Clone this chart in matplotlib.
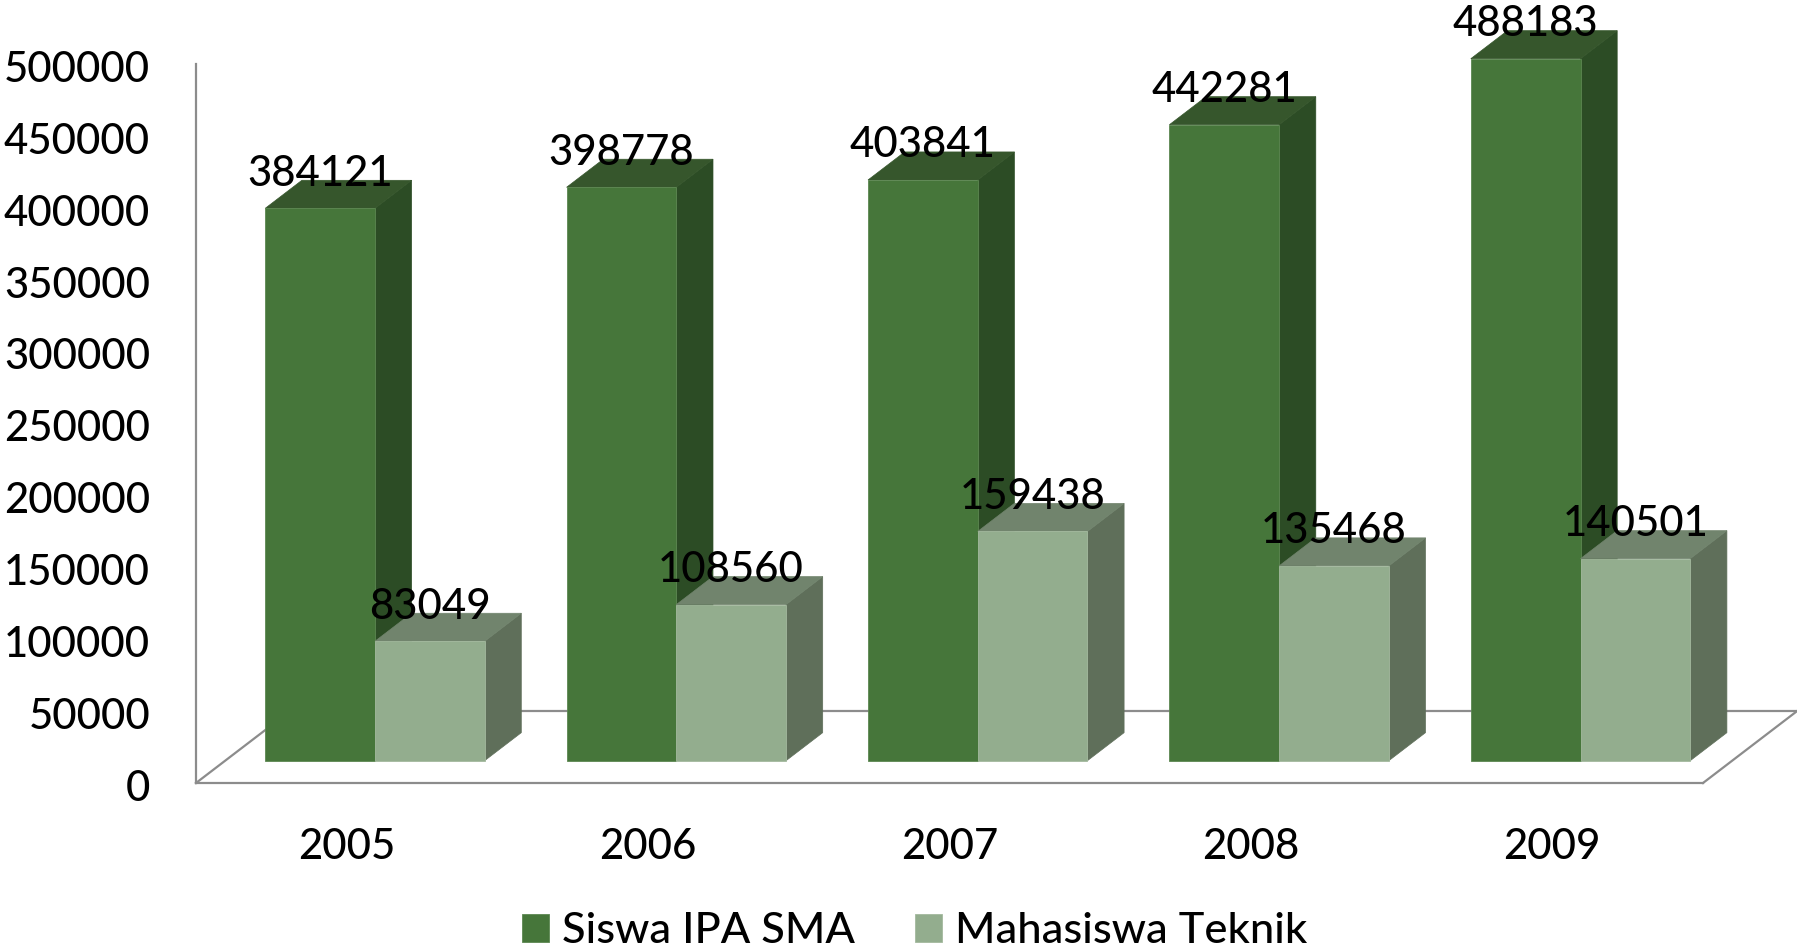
import numpy as np
import matplotlib.pyplot as plt
from matplotlib.patches import Polygon
from matplotlib.transforms import ScaledTranslation

plt.rcParams['font.family'] = ['Lato', 'DejaVu Sans']
plt.rcParams['font.weight'] = 'medium'

years = ['2005', '2006', '2007', '2008', '2009']
siswa = [384121, 398778, 403841, 442281, 488183]
mahasiswa = [83049, 108560, 159438, 135468, 140501]
yticks = list(range(0, 500001, 50000))

# oblique projection of the floor: depth in category units and value units
floor_dx = 0.312
floor_dy = 50000
front = 0.30   # where the bars start inside the floor
depth = 0.39   # how deep the bars are
width = 0.364
fs = 30.2
line = '#8c8c8c'

fig = plt.figure(figsize=(17.97, 9.52), dpi=100)
ax = fig.add_axes([196 / 1797, (952 - 783) / 952, 1507 / 1797, 719 / 952])
ax.set_xlim(-0.5, 4.5)
ax.set_ylim(0, 500000)

# floor
ax.plot([-0.5, -0.5 + floor_dx], [0, floor_dy], color=line, lw=1.6, clip_on=False, zorder=1)
ax.plot([4.5, 4.5 + floor_dx], [0, floor_dy], color=line, lw=1.6, clip_on=False, zorder=1)
ax.plot([-0.5 + floor_dx, 4.5 + floor_dx], [floor_dy, floor_dy], color=line, lw=1.6, clip_on=False, zorder=1)


def bar3d(x, values, c_front, c_side, c_top, c_edge, z, label):
    base = 0.31 * floor_dy
    ddx = depth * floor_dx
    ddy = depth * floor_dy
    for xi, v in zip(x, values):
        top = base + v
        r = xi + width
        ax.add_patch(Polygon([(r, base), (r + ddx, base + ddy), (r + ddx, top + ddy), (r, top)],
                             fc=c_side, ec=c_side, lw=0.5, zorder=z, clip_on=False))
        ax.add_patch(Polygon([(xi, top), (xi + ddx, top + ddy), (r + ddx, top + ddy), (r, top)],
                             fc=c_top, ec=c_top, lw=0.5, zorder=z, clip_on=False))
    bars = ax.bar(x, values, width=width, bottom=base, align='edge', color=c_front,
                  edgecolor=c_edge, linewidth=0.6, zorder=z + 0.5, label=label, clip_on=False)
    for xi, v in zip(x, values):
        ax.annotate(str(v), (xi + width / 2, base + v), xytext=(0, 25), textcoords='offset points',
                    ha='center', va='center', fontsize=fs, color='black', zorder=10,
                    annotation_clip=False)
    return bars


pos = np.arange(len(years))
shift = front * floor_dx
b1 = bar3d(pos + shift - width, siswa, '#46763a', '#2c4c25', '#36562c', '#5c8751', 3, 'Siswa IPA SMA')
b2 = bar3d(pos + shift, mahasiswa, '#93ad8e', '#5f6f5a', '#71846d', '#a3b99e', 4, 'Mahasiswa Teknik')

ax.set_xticks(pos)
ax.set_xticklabels(years, fontsize=fs)
ax.set_yticks(yticks)
ax.set_yticklabels([str(t) for t in yticks], fontsize=fs)
ax.tick_params(axis='x', length=0, pad=32.7)
ax.tick_params(axis='y', length=0, pad=33)
# labels sit a bit lower than matplotlib centres them
down = ScaledTranslation(0, -1.7 / 72, fig.dpi_scale_trans)
for lab in ax.get_yticklabels():
    lab.set_transform(lab.get_transform() + down)
for s in ['top', 'right']:
    ax.spines[s].set_visible(False)
for s in ['left', 'bottom']:
    ax.spines[s].set_color(line)
    ax.spines[s].set_linewidth(1.6)
ax.patch.set_alpha(0)

leg = fig.legend(handles=[b1, b2], loc='center', bbox_to_anchor=(0.509, 1 - 931 / 952), ncol=2, frameon=False,
                 fontsize=31.2, handlelength=0.62, handleheight=0.62, handletextpad=0.3, columnspacing=1.4,
                 borderpad=0, borderaxespad=0)

plt.savefig('out.png', dpi=100)
